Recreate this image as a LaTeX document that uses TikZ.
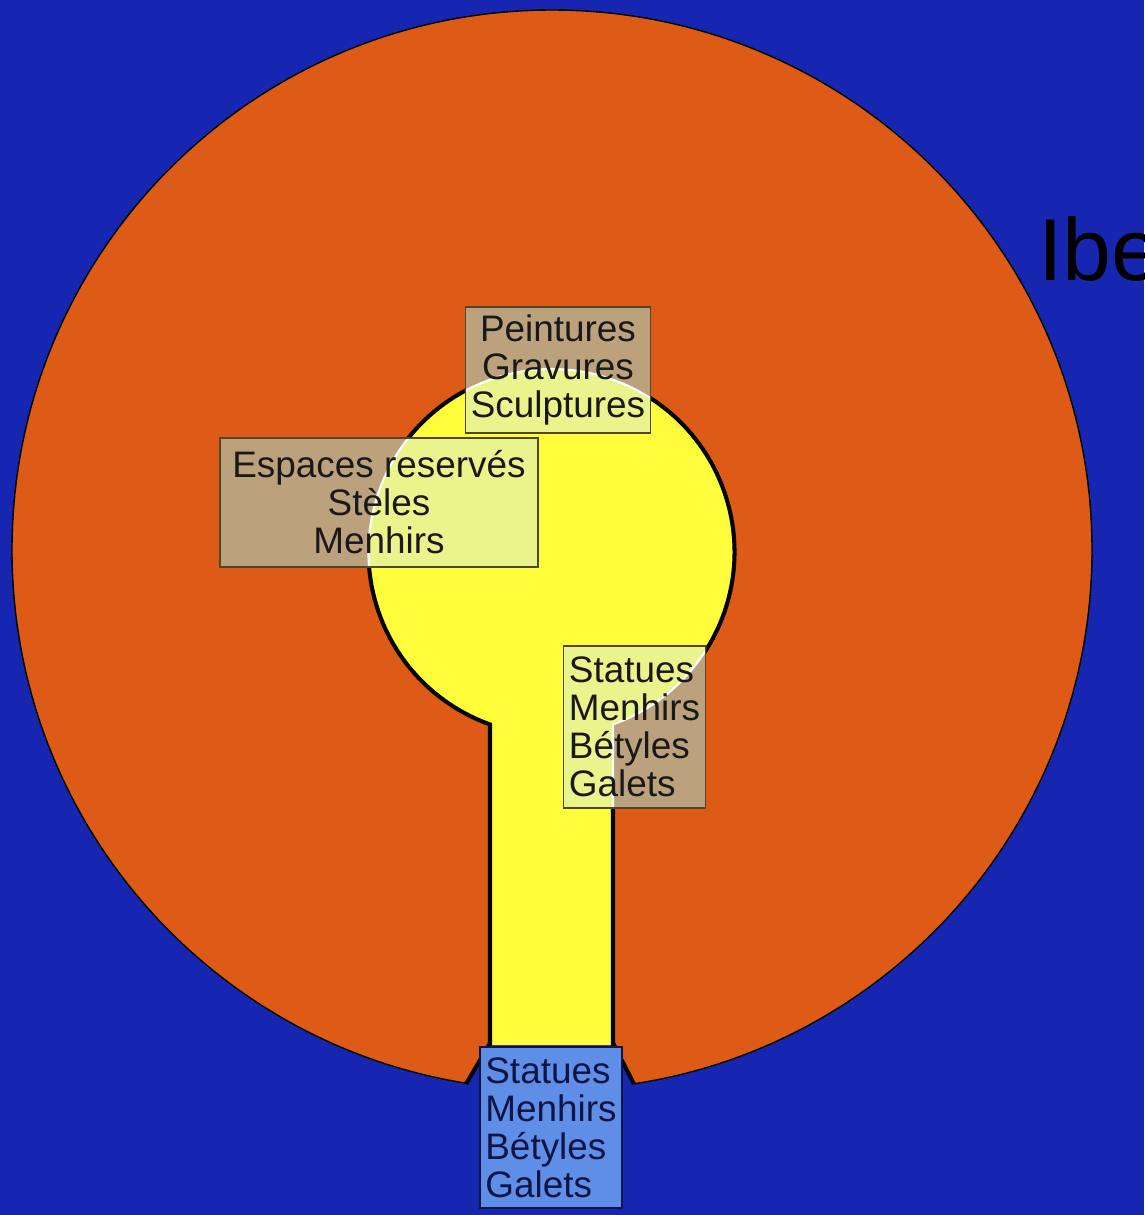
\documentclass[tikz,border=0pt]{standalone}
\usepackage{fontspec}
\setmainfont{Liberation Sans}
\usetikzlibrary{backgrounds}

\definecolor{sky}{RGB}{22,38,176}
\definecolor{rim}{RGB}{221,90,23}
\definecolor{core}{RGB}{255,252,60}
\definecolor{tanbox}{RGB}{188,162,124}
\definecolor{palebox}{RGB}{234,244,140}
\definecolor{bluebox}{RGB}{95,142,230}
\definecolor{tagline}{RGB}{80,70,40}
\definecolor{navyink}{RGB}{15,20,70}

% outline of the yellow keyhole (pixel units, y downwards)
\newcommand{\keyholepath}{(613,1045) -- (613,724.4) arc[start angle=70.36, end angle=-250.36, radius=183] -- (490,1045)}

\begin{document}
\begin{tikzpicture}[
  x=0.02cm, y=-0.02cm,
  tagbox/.style={draw=tagline, line width=0.8pt, inner xsep=3pt, inner ysep=0pt,
                 text=black!90, font=\fontsize{21}{21.6}\selectfont},
  gatebox/.style={tagbox, draw=navyink, fill=bluebox, text=navyink, align=left},
  title/.style={anchor=base west, inner sep=0pt, text=black,
                font=\fontsize{50}{60}\selectfont},
  edge/.style={draw=black, line width=2.3pt},
]
\useasboundingbox (0,0) rectangle (1144,1215);
\clip (0,0) rectangle (1144,1215);

% labels
\node[tagbox, align=center, minimum width=3.64cm, minimum height=2.52cm] (pg) at (558,370)
  {Peintures\\Gravures\\Sculptures};
\node[tagbox, align=center, minimum width=6.36cm, minimum height=2.58cm] (es) at (379,502.5)
  {Espaces reservés\\Stèles\\Menhirs};
\node[tagbox, align=left, minimum width=2.7cm, minimum height=3.24cm] (sm) at (634.5,727)
  {Statues\\Menhirs\\Bétyles\\Galets};
\node[gatebox, minimum width=2.68cm, minimum height=3.22cm] (gate) at (551,1127.5)
  {Statues\\Menhirs\\Bétyles\\Galets};
\node[title] (ibe) at (1038,280) {Ibe};

\begin{pgfonlayer}{background}
  \fill[sky] (0,0) rectangle (1144,1215);
  % outer ring
  \fill[rim, draw=black, line width=0.8pt] (552,550) circle[radius=540];
  % gap at the bottom
  \fill[sky] (490,1045) -- (466,1083) -- (466,1100) -- (636,1100) -- (634,1084) -- (613,1045) -- cycle;
  % keyhole
  \fill[core] \keyholepath -- cycle;
  \draw[edge] \keyholepath;
  \draw[edge] (490,1043) -- (466,1084);
  \draw[edge] (613,1043) -- (634,1084);
  % box fills over the ring and the keyhole
  \foreach \b in {pg,es,sm}{
    \begin{scope}
      \clip (\b.south west) rectangle (\b.north east);
      \fill[tanbox] (\b.south west) rectangle (\b.north east);
      \begin{scope}
        \clip \keyholepath -- cycle;
        \fill[palebox] (\b.south west) rectangle (\b.north east);
      \end{scope}
      \draw[white, line width=1.2pt] \keyholepath;
    \end{scope}
  }
\end{pgfonlayer}
\end{tikzpicture}
\end{document}
